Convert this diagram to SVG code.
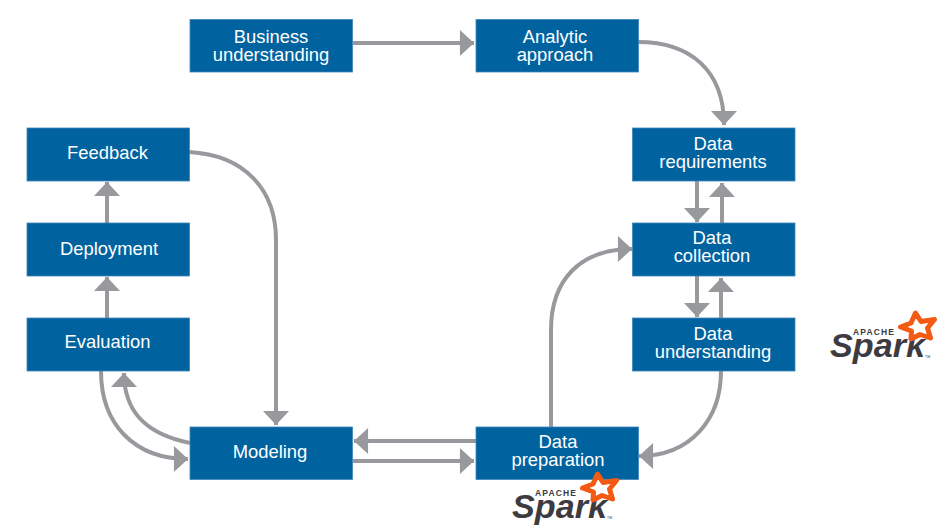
<svg xmlns="http://www.w3.org/2000/svg" width="937" height="525" viewBox="0 0 937 525">
<style>
.box{fill:#00639f;stroke:#3f86b8;stroke-width:.8}
.t{font-family:"Liberation Sans",Arial,sans-serif;font-size:18.4px;fill:#fff;text-anchor:middle}
.c{fill:none;stroke:#98999d;stroke-width:4}
.sp{font-family:"Liberation Sans",Arial,sans-serif;font-weight:bold;font-style:italic;font-size:34px;fill:#3d3b3f}
.ap{font-family:"Liberation Sans",Arial,sans-serif;font-weight:bold;font-size:8.500px;fill:#3d3b3f}
.tm{font-family:"Liberation Sans",Arial,sans-serif;font-size:3.5px;fill:#3d3b3f}
.star{fill:#fff;stroke:#f35a14;stroke-width:5;stroke-linejoin:round}
</style>
<defs>
<marker id="a" markerUnits="userSpaceOnUse" markerWidth="15" markerHeight="26" refX="13" refY="12" orient="auto" viewBox="0 0 13 24"><path d="M0 0L13 12L0 24Z" fill="#98999d"/></marker>
<g id="spark">
<text class="sp" x="830" y="357" textLength="95" lengthAdjust="spacingAndGlyphs">Spark</text>
<text class="ap" x="853" y="335" textLength="41">APACHE</text>
<text class="tm" x="925" y="358">TM</text>
<path class="star" d="M915.500 313L921 321.500L934.500 319.500L927.500 328L930.500 338L920 334.500L911 339L911.500 331L900.500 327L911 323Z"/>
</g>
</defs>
<g id="connectors">
<path class="c" marker-end="url(#a)" d="M353 43H474"/>
<path class="c" marker-end="url(#a)" d="M638 42C690 42 724 70 724 125"/>
<path class="c" marker-end="url(#a)" d="M697 181V222"/>
<path class="c" marker-end="url(#a)" d="M722 223V183"/>
<path class="c" marker-end="url(#a)" d="M697 276V317"/>
<path class="c" marker-end="url(#a)" d="M721 318V278"/>
<path class="c" marker-end="url(#a)" d="M721 371C721 420 690 456 639 456"/>
<path class="c" marker-end="url(#a)" d="M551 427V330C551 280 580 249 632 249"/>
<path class="c" marker-end="url(#a)" d="M476 441H354"/>
<path class="c" marker-end="url(#a)" d="M353 461H474"/>
<path class="c" marker-end="url(#a)" d="M189 152C245 155 276 190 276 240V425"/>
<path class="c" marker-end="url(#a)" d="M107 318V277"/>
<path class="c" marker-end="url(#a)" d="M107 223V182"/>
<path class="c" marker-end="url(#a)" d="M101 371C101 425 135 459 188 459"/>
<path class="c" marker-end="url(#a)" d="M190 443C150 435 124 415 124 373"/>
</g>
<g id="business"><rect class="box" x="190" y="19.500" width="162.500" height="52.500"/><text class="t" x="271" y="43">Business</text><text class="t" x="271" y="61">understanding</text></g>
<g id="analytic"><rect class="box" x="476" y="19.500" width="162.500" height="52.500"/><text class="t" x="555" y="43">Analytic</text><text class="t" x="555" y="61">approach</text></g>
<g id="requirements"><rect class="box" x="632.500" y="128" width="162.500" height="53"/><text class="t" x="713" y="150">Data</text><text class="t" x="713" y="168">requirements</text></g>
<g id="collection"><rect class="box" x="632.500" y="223" width="162.500" height="53"/><text class="t" x="712" y="244">Data</text><text class="t" x="712" y="262">collection</text></g>
<g id="understanding"><rect class="box" x="632.500" y="318" width="162.500" height="53"/><text class="t" x="713" y="340">Data</text><text class="t" x="713" y="358">understanding</text></g>
<g id="feedback"><rect class="box" x="27" y="128" width="162.500" height="53"/><text class="t" x="107.500" y="159">Feedback</text></g>
<g id="deployment"><rect class="box" x="27" y="223" width="162.500" height="53"/><text class="t" x="109" y="255">Deployment</text></g>
<g id="evaluation"><rect class="box" x="27" y="318" width="162.500" height="53"/><text class="t" x="107.500" y="348">Evaluation</text></g>
<g id="modeling"><rect class="box" x="190" y="427" width="162.500" height="52.500"/><text class="t" x="270" y="458">Modeling</text></g>
<g id="preparation"><rect class="box" x="476" y="427" width="162.500" height="52.500"/><text class="t" x="558" y="448">Data</text><text class="t" x="558" y="466">preparation</text></g>
<g id="spark-right"><use href="#spark"/></g>
<g id="spark-bottom"><use href="#spark" x="-318" y="161"/></g>
</svg>
